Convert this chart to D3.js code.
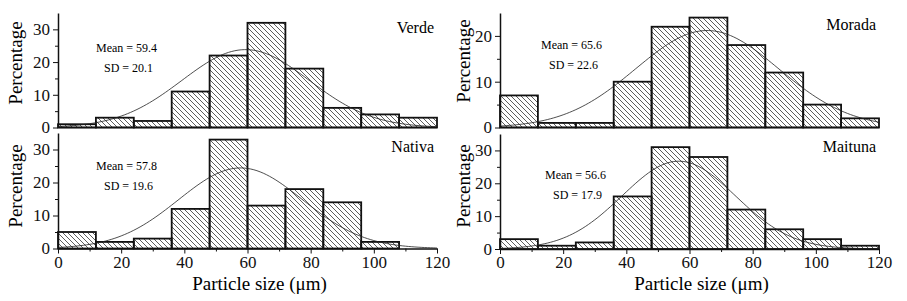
<!DOCTYPE html>
<html lang="en">
<head>
    <title>Particle size histograms</title>
    <script src='https://d3js.org/d3.v7.min.js'></script>
    <style>
        body { margin: 0; background: #fff; }
    </style>
</head>
<body>
    <script>
        var width = 907, height = 301;
        var serif = '"Liberation Serif"';

        // bin edges (um) - 10 bins of 12 um
        var binEdges = [0, 12, 24, 36, 48, 60, 72, 84, 96, 108, 120];
        var xTicks = [0, 20, 40, 60, 80, 100, 120];

        // percentage per bin
        var verde   = [1, 3, 2, 11, 22, 32, 18, 6, 4, 3];
        var nativa  = [5, 2, 3, 12, 33, 13, 18, 14, 2, 0];
        var morada  = [7, 1, 1, 10, 22, 24, 18, 12, 5, 2];
        var maituna = [3, 1, 2, 16, 31, 28, 12, 6, 3, 1];

        var names = ["Verde", "Nativa", "Morada", "Maituna"];
        var means = [59.4, 57.8, 65.6, 56.6];
        var sds   = [20.1, 19.6, 22.6, 17.9];
        var yMax  = [35, 35, 25, 35];

        var svg = d3.select('body')
            .append('svg')
            .attr('width', width)
            .attr('height', height);

        // hatch pattern (\\\)
        svg.append('defs').append('pattern')
            .attr('id', 'hatch')
            .attr('patternUnits', 'userSpaceOnUse')
            .attr('width', 5).attr('height', 5)
            .append('path')
            .attr('d', 'M-1,-1 L6,6 M-1,4 L1,6 M4,-1 L6,1')
            .attr('stroke', '#333')
            .attr('stroke-width', 0.8);

        // panel frames in px
        var panels = [
            {values: verde,   x0: 58,  x1: 437, y0: 127.5, y1: 13,  bottom: false, yl: 22,  ylY: 63,  nameX: 434, nameY: 33,  mx: 96,  my: 52},
            {values: nativa,  x0: 58,  x1: 437, y0: 248.5, y1: 133, bottom: true,  yl: 22,  ylY: 186, nameX: 434, nameY: 152, mx: 96,  my: 170},
            {values: morada,  x0: 500, x1: 879, y0: 127.5, y1: 13,  bottom: false, yl: 470, ylY: 61,  nameX: 876, nameY: 30,  mx: 541, my: 49},
            {values: maituna, x0: 500, x1: 879, y0: 249,   y1: 134, bottom: true,  yl: 470, ylY: 186, nameX: 876, nameY: 152, mx: 545, my: 179}
        ];

        panels.forEach(function(p, k) {
            var g = svg.append('g');
            var x = d3.scaleLinear().domain([0, 120]).range([p.x0, p.x1]);
            var y = d3.scaleLinear().domain([0, yMax[k]]).range([p.y0, p.y1]);

            var bins = p.values.map(function(v, i) {
                return {lo: binEdges[i], hi: binEdges[i + 1], v: v};
            }).filter(function(d) { return d.v > 0; });

            // bars
            g.selectAll('rect')
                .data(bins)
                .join('rect')
                .attr('x', function(d) { return x(d.lo); })
                .attr('y', function(d) { return y(d.v); })
                .attr('width', function(d) { return x(d.hi) - x(d.lo); })
                .attr('height', function(d) { return y(0) - y(d.v); })
                .attr('fill', 'url(#hatch)')
                .attr('stroke', '#111')
                .attr('stroke-width', 1.8);

            // fitted normal curve, scaled to percent per 12 um bin
            var norm = function(t) {
                var z = (t - means[k]) / sds[k];
                return 100 * 12 * Math.exp(-0.5 * z * z) / (sds[k] * Math.sqrt(2 * Math.PI));
            };
            var line = d3.line()
                .x(function(t) { return x(t); })
                .y(function(t) { return y(norm(t)); })
                .curve(d3.curveBasis);
            g.append('path')
                .datum(d3.range(0, 120.5, 1))
                .attr('d', line)
                .attr('fill', 'none')
                .attr('stroke', '#222')
                .attr('stroke-width', 0.8);

            // y axis
            var majors = d3.range(0, yMax[k] + 1, 10);
            var minors = d3.range(5, yMax[k], 10);
            g.append('g')
                .attr('transform', 'translate(' + p.x0 + ',0)')
                .call(d3.axisLeft(y).tickValues(minors).tickSize(3).tickSizeOuter(0).tickFormat(''))
                .call(function(a) { a.select('.domain').remove(); });
            var ya = g.append('g')
                .attr('transform', 'translate(' + p.x0 + ',0)')
                .call(d3.axisLeft(y).tickValues(majors).tickSize(5).tickSizeOuter(0).tickPadding(3));
            ya.attr('font-family', null);
            ya.selectAll('text').style('font-size', '17px').style('font-family', serif).attr('fill', '#111');

            // x axis
            if (p.bottom) {
                g.append('g')
                    .attr('transform', 'translate(0,' + p.y0 + ')')
                    .call(d3.axisBottom(x).tickValues([10, 30, 50, 70, 90, 110]).tickSize(3).tickFormat(''))
                    .call(function(a) { a.select('.domain').remove(); });
                var xa = g.append('g')
                    .attr('transform', 'translate(0,' + p.y0 + ')')
                    .call(d3.axisBottom(x).tickValues(xTicks).tickSize(5).tickSizeOuter(0).tickPadding(2));
                xa.attr('font-family', null);
                xa.selectAll('text').style('font-size', '17px').style('font-family', serif).attr('fill', '#111');

                g.append('text')
                    .attr('x', (p.x0 + p.x1) / 2 + 12)
                    .attr('y', 290)
                    .attr('text-anchor', 'middle')
                    .style('font-size', '19px')
                    .style('font-family', serif)
                    .text('Particle size (\u03bcm)');
            } else {
                g.append('line')
                    .attr('x1', p.x0).attr('x2', p.x1)
                    .attr('y1', p.y0).attr('y2', p.y0)
                    .attr('stroke', '#111')
                    .attr('stroke-width', 1.5);
            }
            g.selectAll('.domain').attr('stroke', '#111').attr('stroke-width', 1.5);
            g.selectAll('.tick line').attr('stroke', '#111');

            // labels
            g.append('text')
                .attr('transform', 'translate(' + p.yl + ',' + p.ylY + ') rotate(-90)')
                .attr('text-anchor', 'middle')
                .style('font-size', '19px')
                .style('font-family', serif)
                .text('Percentage');

            g.append('text')
                .attr('x', p.nameX).attr('y', p.nameY)
                .attr('text-anchor', 'end')
                .style('font-size', '16px')
                .style('font-family', serif)
                .text(names[k]);

            g.append('text')
                .attr('x', p.mx).attr('y', p.my)
                .style('font-size', '12px')
                .style('font-family', serif)
                .text('Mean = ' + means[k].toFixed(1));
            g.append('text')
                .attr('x', p.mx + 8).attr('y', p.my + 20)
                .style('font-size', '12px')
                .style('font-family', serif)
                .text('SD = ' + sds[k].toFixed(1));
        });
    </script>
</body>
</html>
